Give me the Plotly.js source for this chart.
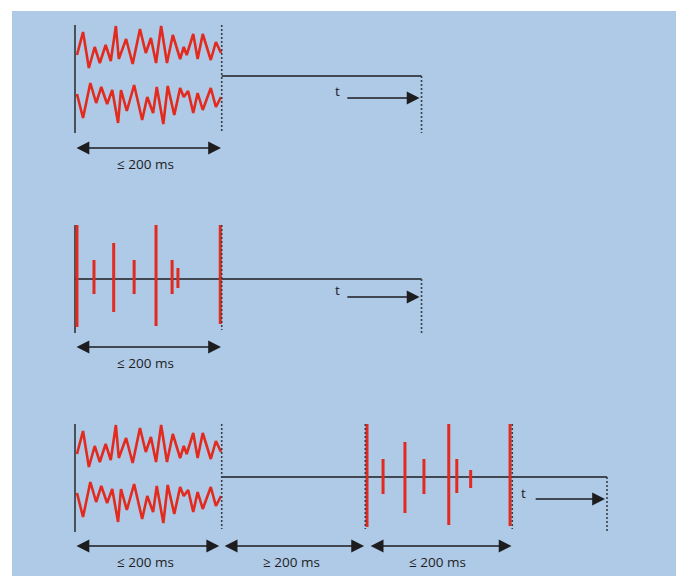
<!DOCTYPE html>
<html>
<head>
<meta charset="utf-8">
<script src="https://cdn.plot.ly/plotly-3.0.1.min.js"></script>
<style>html,body{margin:0;padding:0;background:#fff;}#chart{width:681px;height:576px;}</style>
</head>
<body>
<div id="chart"></div>
<script>
// ---- data (time in ms, amplitudes in px-like units) ----
const waveUpperT = [2.7, 11, 19, 27, 34, 42, 49, 56, 60, 70, 79, 89, 97, 104, 111, 118, 126, 134, 144, 149, 153, 162, 168, 175, 186, 193, 200];
const waveUpperV = [-8, 15, -21, 0, -16, 2, -14, 21, -12, 8, -17, 18, -6, 9, -16, 21, -16, 12, -12, 0, -8, 13, -12, 13, -13, 5, -6];
const waveLowerT = [2.7, 11, 21, 29, 36, 44, 51, 59, 63, 71, 81, 92, 99, 107, 112, 121, 127, 136, 144, 149, 155, 162, 168, 175, 186, 193, 200];
const waveLowerV = [10, -14, 21, 1, 17, 0, 14, -19, 14, -7, 19, -16, 7, -9, 17, -20, 18, -11, 16, 7, 13, -9, 11, -6, 16, -3, 7];

const spikesAT = [2.7, 26, 53, 81, 111, 133, 141, 199];
const spikesAUp = [54, 19, 36, 19, 54, 19, 11, 54];
const spikesADown = [48, 15, 33, 15, 47, 15, 9, 45];

const spikesBT = [400, 422, 452, 478, 512, 523, 542, 596];
const spikesBUp = [53, 18, 35, 18, 53, 18, 7, 53];
const spikesBDown = [50, 17, 36, 17, 48, 16, 11, 49];

const labelLE = "≤ 200 ms";
const labelGE = "≥ 200 ms";
const labelT = "t";

// ---- scale / layout constants ----
const PX_PER_MS = 0.73;
const X0PX = 75;
const W = 681, H = 576;
const xRange = [-X0PX / PX_PER_MS, (W - X0PX) / PX_PER_MS];
const RED = '#e32a1e';
const INK = '#1d1d1f';
const DOT = '#3b3f46';
const END1 = 474.7;   // end of the timeline, panels 1 & 2
const END3 = 728.8;   // end of the timeline, panel 3
const P3 = 399;       // vertical offset of panel 3 relative to panel 1

const traces = [];
function seg(xs, ys, color, width, dash) {
  traces.push({x: xs, y: ys, mode: 'lines', hoverinfo: 'skip',
    line: {color: color, width: width, dash: dash || 'solid', shape: 'linear'}});
}
function vline(t, y0, y1, color, width, dash) { seg([t, t], [y0, y1], color, width, dash); }
function wave(T, V, center) {
  seg(T, V.map(v => center - v), RED, 2.6);
}
function spikes(T, up, down, base) {
  const xs = [], ys = [];
  T.forEach((t, i) => { xs.push(t, t, null); ys.push(base - up[i], base + down[i], null); });
  seg(xs, ys, RED, 3);
}

// Panel 1
vline(0, 25, 133, INK, 1.4);
seg([201, END1], [76, 76], INK, 1.3);
wave(waveUpperT, waveUpperV, 47);
wave(waveLowerT, waveLowerV, 104);
vline(201, 25, 131, DOT, 1.6, '2px,2px');
vline(END1, 76, 133, DOT, 1.6, '2px,2px');

// Panel 2
vline(0, 225, 333, INK, 1.4);
seg([0, END1], [279, 279], INK, 1.3);
spikes(spikesAT, spikesAUp, spikesADown, 279);
vline(201, 225, 330, DOT, 1.6, '2px,2px');
vline(END1, 279, 333, DOT, 1.6, '2px,2px');

// Panel 3
vline(0, 25 + P3, 133 + P3, INK, 1.4);
seg([201, END3], [477, 477], INK, 1.3);
wave(waveUpperT, waveUpperV, 47 + P3);
wave(waveLowerT, waveLowerV, 104 + P3);
spikes(spikesBT, spikesBUp, spikesBDown, 477);
vline(201, 424, 529, DOT, 1.6, '2px,2px');
vline(397.7, 424, 529, DOT, 1.6, '2px,2px');
vline(599, 424, 529, DOT, 1.6, '2px,2px');
vline(END3, 477, 532, DOT, 1.6, '2px,2px');

// ---- annotations ----
const ann = [];
function arrow(a, b, y, both) {
  ann.push({x: b, y: y, ax: a, ay: y, xref: 'x', yref: 'y', axref: 'x', ayref: 'y',
    text: '', showarrow: true, arrowhead: 2, arrowsize: 1.6, arrowwidth: 1.6,
    startarrowhead: 2, startarrowsize: 1.6, arrowside: both ? 'end+start' : 'end',
    arrowcolor: INK});
}
function label(txt, t, y) {
  ann.push({x: t, y: y, xref: 'x', yref: 'y', text: txt, showarrow: false,
    xanchor: 'center', yanchor: 'middle',
    font: {family: 'Open Sans, Noto Sans, sans-serif', size: 13.5, color: INK}});
}

arrow(0, 200, 148, true);   label(labelLE, 97, 164);
arrow(0, 200, 347, true);   label(labelLE, 97, 363);
arrow(0, 197.5, 546, true); label(labelLE, 97, 562);
arrow(203, 396, 546, true); label(labelGE, 296, 562);
arrow(403, 598, 546, true); label(labelLE, 496, 562);

arrow(371, 472, 98, false);  label(labelT, 359, 91);
arrow(371, 472, 297, false); label(labelT, 359, 290);
arrow(629, 726, 499, false); label(labelT, 614, 493);

const layout = {
  width: W, height: H,
  margin: {l: 0, r: 0, t: 0, b: 0, pad: 0},
  paper_bgcolor: '#ffffff', plot_bgcolor: 'rgba(0,0,0,0)',
  showlegend: false,
  xaxis: {range: xRange, visible: false, fixedrange: true},
  yaxis: {range: [H, 0], visible: false, fixedrange: true},
  shapes: [{type: 'rect', xref: 'paper', yref: 'paper', layer: 'below',
    x0: 12 / W, x1: 676 / W, y0: 0, y1: 1 - 11 / H,
    fillcolor: '#aecae6', line: {width: 0}}],
  annotations: ann
};

Plotly.newPlot('chart', traces, layout, {staticPlot: true, displayModeBar: false});
</script>
</body>
</html>
